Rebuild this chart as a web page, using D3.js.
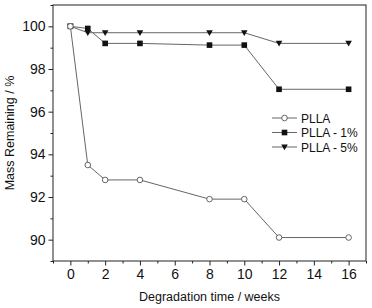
<!DOCTYPE html>
<html>
<head>
<meta charset="utf-8">
<script src="https://cdn.jsdelivr.net/npm/d3@7"></script>
<style>
  body { margin: 0; background: #fff; }
  text { font-family: "Liberation Sans", Arial, sans-serif; }
</style>
</head>
<body>
<div id="chart"></div>
<script>
const weeks = [0, 1, 2, 4, 8, 10, 12, 16];
const plla = [100, 93.5, 92.8, 92.8, 91.9, 91.9, 90.1, 90.1];
const plla1 = [100, 99.9, 99.2, 99.2, 99.12, 99.12, 97.05, 97.05];
const plla5 = [100, 99.7, 99.7, 99.7, 99.7, 99.7, 99.2, 99.2];
const seriesNames = ["PLLA", "PLLA - 1%", "PLLA - 5%"];
const xTicks = [0, 2, 4, 6, 8, 10, 12, 14, 16];
const yTicks = [90, 92, 94, 96, 98, 100];

const W = 372, H = 308;
const margin = { top: 5, right: 6, bottom: 47, left: 53 };
const width = W - margin.left - margin.right;
const height = H - margin.top - margin.bottom;

const svg = d3.select("#chart").append("svg")
  .attr("width", W)
  .attr("height", H);

const g = svg.append("g")
  .attr("transform", `translate(${margin.left},${margin.top})`);

const x = d3.scaleLinear().domain([-1, 17]).range([0, width]);
const y = d3.scaleLinear().domain([89, 101]).range([height, 0]);

// minor ticks
g.append("g")
  .attr("transform", `translate(0,${height})`)
  .call(d3.axisBottom(x).tickValues(d3.range(-1, 18, 2)).tickSize(2.5).tickFormat(""))
  .call(s => s.select(".domain").remove());
g.append("g")
  .call(d3.axisLeft(y).tickValues(d3.range(89, 102, 2)).tickSize(2.5).tickFormat(""))
  .call(s => s.select(".domain").remove());

// major axes
const xAxis = g.append("g")
  .attr("transform", `translate(0,${height})`)
  .call(d3.axisBottom(x).tickValues(xTicks).tickSize(4.5).tickPadding(4));
const yAxis = g.append("g")
  .call(d3.axisLeft(y).tickValues(yTicks).tickSize(4.5).tickPadding(3));

[xAxis, yAxis].forEach(a => {
  a.selectAll("text").style("font-size", "14px").attr("fill", "#111");
});

g.selectAll(".tick line").attr("stroke", "#222");

// frame
g.append("rect")
  .attr("width", width)
  .attr("height", height)
  .attr("fill", "none")
  .attr("stroke", "#222")
  .attr("stroke-width", 1);
g.selectAll(".domain").remove();

const datasets = [plla, plla1, plla5].map((vals, i) =>
  ({ name: seriesNames[i], values: weeks.map((w, j) => ({ w, v: vals[j] })) }));

const line = d3.line().x(d => x(d.w)).y(d => y(d.v));

function marker(sel, i) {
  if (i === 0) {
    sel.append("circle").attr("r", 2.8).attr("fill", "#fff").attr("stroke", "#555").attr("stroke-width", 0.9);
  } else if (i === 1) {
    sel.append("rect").attr("x", -2.8).attr("y", -2.8).attr("width", 5.6).attr("height", 5.6).attr("fill", "#111");
  } else {
    sel.append("path").attr("d", "M-3.3,-2.6L3.3,-2.6L0,3.2Z").attr("fill", "#111");
  }
}

datasets.forEach((ds, i) => {
  g.append("path")
    .datum(ds.values)
    .attr("fill", "none")
    .attr("stroke", "#666")
    .attr("stroke-width", 1)
    .attr("d", line);
});
datasets.slice().reverse().forEach((ds, ri) => {
  const i = 2 - ri;
  g.selectAll(null)
    .data(ds.values)
    .join("g")
    .attr("transform", d => `translate(${x(d.w)},${y(d.v)})`)
    .each(function () { marker(d3.select(this), i); });
});

// legend
const legend = g.append("g").attr("transform", `translate(${272 - margin.left},${118 - margin.top})`);
seriesNames.forEach((n, i) => {
  const row = legend.append("g").attr("transform", `translate(0,${i * 14.5})`);
  row.append("line").attr("x1", 0).attr("x2", 25).attr("stroke", "#666").attr("stroke-width", 1);
  const m = row.append("g").attr("transform", "translate(12.5,0)");
  marker(m, i);
  row.append("text").attr("x", 29).attr("y", 4.5).style("font-size", "12px").attr("fill", "#111").text(n);
});

// axis titles
svg.append("text")
  .attr("x", margin.left + width / 2)
  .attr("y", 301)
  .attr("text-anchor", "middle")
  .style("font-size", "12.5px")
  .attr("fill", "#111")
  .text("Degradation time / weeks");

svg.append("text")
  .attr("transform", `translate(14,${margin.top + height / 2}) rotate(-90)`)
  .attr("text-anchor", "middle")
  .style("font-size", "12.5px")
  .attr("fill", "#111")
  .text("Mass Remaining / %");
</script>
</body>
</html>
